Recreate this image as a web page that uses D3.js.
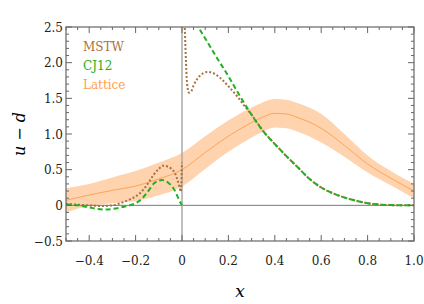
<!DOCTYPE html>
<html>
<head>
<meta charset="utf-8">
<script src="https://cdn.jsdelivr.net/npm/d3@7"></script>
<style>
  body { margin: 0; background: #fff; }
  text { font-family: "DejaVu Serif", serif; }
</style>
</head>
<body>
<svg id="chart"></svg>
<script>
// x grid for the lattice band
const latticeX     = [-0.5, -0.4, -0.3, -0.2, -0.1, 0, 0.1, 0.2, 0.3, 0.35, 0.4, 0.45, 0.5, 0.6, 0.7, 0.8, 0.9, 1.0];
const latticeMid   = [0.07, 0.145, 0.21, 0.27, 0.37, 0.5, 0.74, 0.97, 1.16, 1.24, 1.29, 1.28, 1.23, 1.08, 0.84, 0.58, 0.38, 0.2];
const latticeHalf  = [0.17, 0.155, 0.18, 0.21, 0.23, 0.235, 0.23, 0.22, 0.21, 0.205, 0.2, 0.2, 0.2, 0.2, 0.16, 0.12, 0.1, 0.1];

// CJ12, negative and positive branches
const cjNegX = [-0.5, -0.45, -0.4, -0.33, -0.3, -0.25, -0.2, -0.18, -0.15, -0.12, -0.1, -0.087, -0.07, -0.05, -0.037, -0.02, -0.01, 0];
const cjNegY = [0.01, 0.0, -0.03, -0.06, -0.05, -0.02, 0.03, 0.07, 0.18, 0.31, 0.345, 0.355, 0.34, 0.29, 0.24, 0.13, 0.06, 0];
const cjPosX = [0.06, 0.07, 0.1, 0.15, 0.2, 0.25, 0.3, 0.35, 0.4, 0.45, 0.5, 0.55, 0.6, 0.65, 0.7, 0.75, 0.8, 0.85, 0.9, 0.95, 1.0];
const cjPosY = [2.56, 2.5, 2.34, 2.07, 1.81, 1.53, 1.27, 1.04, 0.86, 0.69, 0.53, 0.37, 0.25, 0.17, 0.11, 0.065, 0.03, 0.01, 0.003, 0, 0];

// MSTW, negative and positive branches
const mstwNegX = [-0.5, -0.45, -0.4, -0.35, -0.3, -0.267, -0.22, -0.181, -0.15, -0.124, -0.1, -0.081, -0.06, -0.03, -0.02, -0.01, -0.005, -0.002, -0.0005];
const mstwNegY = [0.02, 0.01, 0.0, -0.01, 0.0, 0.03, 0.09, 0.17, 0.29, 0.42, 0.51, 0.555, 0.54, 0.45, 0.36, 0.25, 0.19, 0.35, 0.6];
const mstwPosX = [0.011, 0.015, 0.02, 0.025, 0.03, 0.04, 0.05, 0.07, 0.09, 0.11, 0.13, 0.16, 0.2, 0.24, 0.27, 0.3, 0.35, 0.4, 0.45, 0.5, 0.55, 0.6, 0.65, 0.7, 0.75, 0.8, 0.85, 0.9, 0.95, 1.0];
const mstwPosY = [2.6, 2.2, 1.8, 1.63, 1.58, 1.6, 1.68, 1.79, 1.85, 1.87, 1.86, 1.8, 1.67, 1.52, 1.39, 1.27, 1.04, 0.86, 0.69, 0.53, 0.37, 0.25, 0.17, 0.11, 0.065, 0.03, 0.01, 0.003, 0, 0];

const xTicks = [-0.4, -0.2, 0, 0.2, 0.4, 0.6, 0.8, 1.0];
const xTickLabels = ['\u22120.4', '\u22120.2', '0', '0.2', '0.4', '0.6', '0.8', '1.0'];
const yTicks = [-0.5, 0, 0.5, 1.0, 1.5, 2.0, 2.5];
const yTickLabels = ['\u22120.5', '0', '0.5', '1.0', '1.5', '2.0', '2.5'];

const legendNames = ['MSTW', 'CJ12', 'Lattice'];
const legendColors = ['#a8723e', '#22b022', '#ffa04a'];

const W = 424, H = 304;
const margin = { top: 27, right: 10, bottom: 63, left: 66 };
const width = W - margin.left - margin.right;
const height = H - margin.top - margin.bottom;

const svg = d3.select('#chart').attr('width', W).attr('height', H);
const g = svg.append('g').attr('transform', `translate(${margin.left},${margin.top})`);

const x = d3.scaleLinear().domain([-0.5, 1.0]).range([0, width]);
const y = d3.scaleLinear().domain([-0.5, 2.5]).range([height, 0]);

g.append('clipPath').attr('id', 'clip')
  .append('rect').attr('width', width).attr('height', height);

const plot = g.append('g').attr('clip-path', 'url(#clip)');

// lattice band
const band = latticeX.map((v, i) => ({ x: v, lo: latticeMid[i] - latticeHalf[i], hi: latticeMid[i] + latticeHalf[i], mid: latticeMid[i] }));
plot.append('path')
  .datum(band)
  .attr('fill', '#fed3ad')
  .attr('d', d3.area().curve(d3.curveMonotoneX)
    .x(d => x(d.x)).y0(d => y(d.lo)).y1(d => y(d.hi)));
plot.append('path')
  .datum(band)
  .attr('fill', 'none')
  .attr('stroke', '#fba55a')
  .attr('stroke-width', 1)
  .attr('d', d3.line().curve(d3.curveMonotoneX).x(d => x(d.x)).y(d => y(d.mid)));

// axis lines at zero
plot.append('line')
  .attr('x1', 0).attr('x2', width).attr('y1', y(0)).attr('y2', y(0))
  .attr('stroke', '#777').attr('stroke-width', 1);
plot.append('line')
  .attr('x1', x(0)).attr('x2', x(0)).attr('y1', 0).attr('y2', height)
  .attr('stroke', '#aaa').attr('stroke-width', 1.5);

const line = d3.line().curve(d3.curveMonotoneX).x(d => x(d[0])).y(d => y(d[1]));
const zip = (a, b) => a.map((v, i) => [v, b[i]]);

// MSTW dotted
[zip(mstwNegX, mstwNegY), zip(mstwPosX, mstwPosY)].forEach(pts => {
  plot.append('path')
    .datum(pts)
    .attr('fill', 'none')
    .attr('stroke', legendColors[0])
    .attr('stroke-width', 2)
    .attr('stroke-dasharray', '2,2')
    .attr('d', line);
});

// CJ12 dashed
[zip(cjNegX, cjNegY), zip(cjPosX, cjPosY)].forEach(pts => {
  plot.append('path')
    .datum(pts)
    .attr('fill', 'none')
    .attr('stroke', legendColors[1])
    .attr('stroke-width', 2)
    .attr('stroke-dasharray', '5,3')
    .attr('d', line);
});

// frame with inward ticks on all sides
const frameColor = '#666';
g.append('rect')
  .attr('width', width).attr('height', height)
  .attr('fill', 'none').attr('stroke', frameColor).attr('stroke-width', 1.2);

const xMinor = d3.range(-0.5, 1.0001, 0.05).map(v => +v.toFixed(2));
const yMinor = d3.range(-0.5, 2.5001, 0.1).map(v => +v.toFixed(2));
const isMajor = (v, arr) => arr.some(t => Math.abs(t - v) < 1e-6);

xMinor.forEach(v => {
  const len = isMajor(v, xTicks) ? 6 : 3;
  g.append('line').attr('x1', x(v)).attr('x2', x(v)).attr('y1', height).attr('y2', height - len)
    .attr('stroke', frameColor);
  g.append('line').attr('x1', x(v)).attr('x2', x(v)).attr('y1', 0).attr('y2', len)
    .attr('stroke', frameColor);
});
yMinor.forEach(v => {
  const len = isMajor(v, yTicks) ? 6 : 3;
  g.append('line').attr('x1', 0).attr('x2', len).attr('y1', y(v)).attr('y2', y(v))
    .attr('stroke', frameColor);
  g.append('line').attr('x1', width).attr('x2', width - len).attr('y1', y(v)).attr('y2', y(v))
    .attr('stroke', frameColor);
});

// tick labels
g.selectAll('.xlab').data(xTicks).join('text')
  .attr('x', d => x(d)).attr('y', height + 24)
  .attr('text-anchor', 'middle')
  .style('font-size', '12px').attr('fill', '#222')
  .text((d, i) => xTickLabels[i]);
g.selectAll('.ylab').data(yTicks).join('text')
  .attr('x', -3).attr('y', d => y(d) + 4.5)
  .attr('text-anchor', 'end')
  .style('font-size', '12px').attr('fill', '#222')
  .text((d, i) => yTickLabels[i]);

// axis titles
svg.append('text')
  .attr('x', margin.left + width / 2).attr('y', 297)
  .attr('text-anchor', 'middle')
  .style('font-size', '17px').style('font-style', 'italic')
  .text('x');
svg.append('text')
  .attr('transform', `translate(25,${margin.top + height / 2}) rotate(-90)`)
  .attr('text-anchor', 'middle')
  .style('font-size', '16px').style('font-style', 'italic')
  .text('u \u2212 d');

// legend
legendNames.forEach((name, i) => {
  g.append('text')
    .attr('x', 17).attr('y', 24 + i * 19)
    .style('font-size', '12px')
    .attr('fill', legendColors[i])
    .text(name);
});
</script>
</body>
</html>
